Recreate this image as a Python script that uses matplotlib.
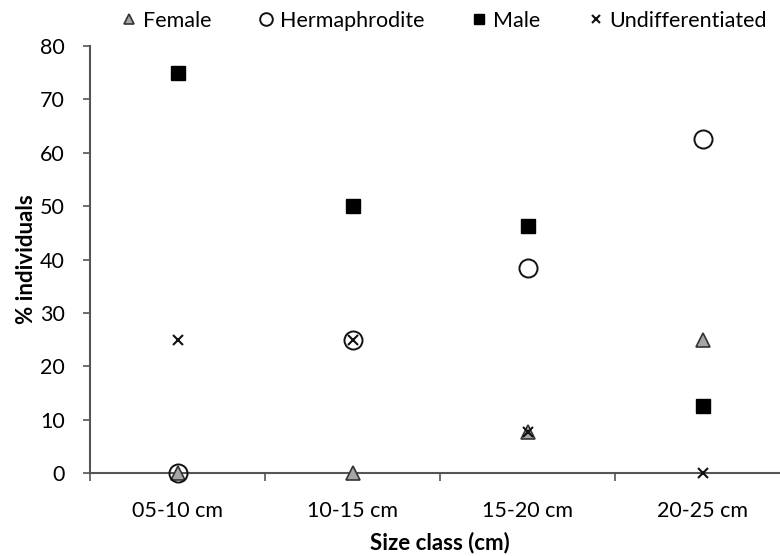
import numpy as np
import matplotlib.pyplot as plt

plt.rcParams["font.family"] = ["Lato", "DejaVu Sans"]

categories = ["05-10 cm", "10-15 cm", "15-20 cm", "20-25 cm"]
female = [0, 0, 7.7, 25]
hermaphrodite = [0, 25, 38.5, 62.5]
male = [75, 50, 46.2, 12.5]
undifferentiated = [25, 25, 7.7, 0]

fig = plt.figure(figsize=(7.8, 5.56), dpi=100)
ax = fig.add_axes([90 / 780, 83 / 556, 700 / 780, 427 / 556])

x = np.arange(len(categories))
ax.plot(x, female, ls="none", marker="^", ms=9.5, mfc="#a6a6a6", mec="#333333",
        mew=1.2, label="Female", clip_on=False, zorder=3)
ax.plot(x, hermaphrodite, ls="none", marker="o", ms=13, mfc="none", mec="#111111",
        mew=1.4, label="Hermaphrodite", clip_on=False, zorder=4)
ax.plot(x, male, ls="none", marker="s", ms=10, mfc="black", mec="black",
        label="Male", clip_on=False, zorder=5)
ax.plot(x, undifferentiated, ls="none", marker="x", ms=7.5, mec="#111111",
        mew=1.5, label="Undifferentiated", clip_on=False, zorder=6)

ax.set_xlim(-0.5, len(categories) - 0.5)
ax.set_ylim(0, 80)
ax.set_yticks(np.arange(0, 81, 10))
ax.set_xticks(x)
ax.set_xticklabels(categories)
ax.set_xticks(np.arange(-0.5, len(categories), 1), minor=True)
ax.tick_params(axis="x", which="major", length=0, labelsize=15.5, pad=20)
ax.tick_params(axis="x", which="minor", length=6, width=1.2, color="#555555")
ax.tick_params(axis="y", length=5, width=1.2, color="#555555", labelsize=15.5, pad=13)

for side in ["top", "right"]:
    ax.spines[side].set_visible(False)
for side in ["left", "bottom"]:
    ax.spines[side].set_color("#555555")
    ax.spines[side].set_linewidth(1.5)

ax.set_xlabel("Size class (cm)", fontsize=16, fontweight="bold", labelpad=8)
ax.set_ylabel("% individuals", fontsize=16, fontweight="bold", labelpad=2)

fig.legend(loc="center right", bbox_to_anchor=(1.0, 0.963), ncol=4, frameon=False,
           fontsize=15.5, handletextpad=0.1, columnspacing=2.0, handlelength=1.1,
           markerscale=0.7, borderaxespad=0.2)

fig.savefig("out.png", dpi=100)
